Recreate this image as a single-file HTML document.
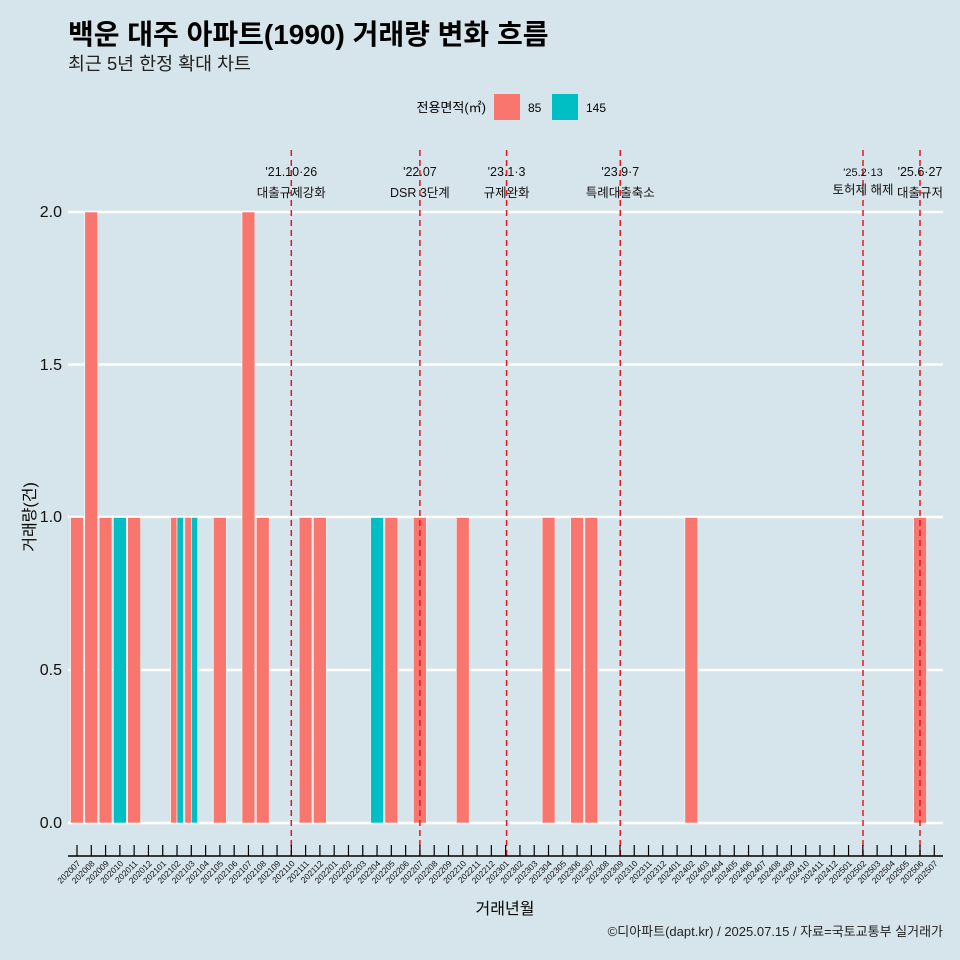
<!DOCTYPE html>
<html><head><meta charset="utf-8"><style>
body{margin:0;background:#d6e4eb}
svg{display:block;font-family:"Liberation Sans","Noto Sans CJK KR",sans-serif}
</style></head><body>
<svg width="960" height="960" viewBox="0 0 960 960">
<rect width="960" height="960" fill="#d6e4eb"/>
<text x="68" y="44" font-size="28" font-weight="bold" fill="#000">백운 대주 아파트(1990) 거래량 변화 흐름</text>
<text x="68" y="70" font-size="18.4" fill="#222">최근 5년 한정 확대 차트</text>
<text x="486" y="112" font-size="13" text-anchor="end">전용면적(㎡)</text>
<rect x="494" y="94" width="26" height="26" fill="#f8766d"/>
<text x="528" y="112" font-size="12">85</text>
<rect x="552" y="94" width="26" height="26" fill="#00bfc4"/>
<text x="586" y="112" font-size="12">145</text>
<g stroke="#fff" stroke-width="2.5">
<line x1="68" x2="943" y1="823" y2="823"/><line x1="68" x2="943" y1="670" y2="670"/>
<line x1="68" x2="943" y1="517" y2="517"/><line x1="68" x2="943" y1="364.5" y2="364.5"/>
<line x1="68" x2="943" y1="212" y2="212"/></g>
<g font-size="16" text-anchor="end" fill="#111">
<text x="62" y="828">0.0</text><text x="62" y="675">0.5</text><text x="62" y="522">1.0</text><text x="62" y="370">1.5</text><text x="62" y="217">2.0</text></g>
<text transform="translate(35,517) rotate(-90)" font-size="16" text-anchor="middle">거래량(건)</text>
<g fill="#f8766d" stroke="#fff" stroke-width="0.6">
<rect x="70.55" y="517.5" width="12.9" height="305.5"/>
<rect x="84.8" y="212" width="12.9" height="611"/>
<rect x="99.1" y="517.5" width="12.9" height="305.5"/>
<rect x="127.7" y="517.5" width="12.9" height="305.5"/>
<rect x="170.55" y="517.5" width="6.45" height="305.5"/>
<rect x="184.85" y="517.5" width="6.45" height="305.5"/>
<rect x="213.4" y="517.5" width="12.9" height="305.5"/>
<rect x="242" y="212" width="12.9" height="611"/>
<rect x="256.3" y="517.5" width="12.9" height="305.5"/>
<rect x="299.1" y="517.5" width="12.9" height="305.5"/>
<rect x="313.4" y="517.5" width="12.9" height="305.5"/>
<rect x="384.9" y="517.5" width="12.9" height="305.5"/>
<rect x="413.4" y="517.5" width="12.9" height="305.5"/>
<rect x="456.3" y="517.5" width="12.9" height="305.5"/>
<rect x="542.1" y="517.5" width="12.9" height="305.5"/>
<rect x="570.6" y="517.5" width="12.9" height="305.5"/>
<rect x="584.9" y="517.5" width="12.9" height="305.5"/>
<rect x="684.9" y="517.5" width="12.9" height="305.5"/>
<rect x="913.6" y="517.5" width="12.9" height="305.5"/>
</g>
<g fill="#00bfc4" stroke="#fff" stroke-width="0.6">
<rect x="113.4" y="517.5" width="12.9" height="305.5"/>
<rect x="177" y="517.5" width="6.45" height="305.5"/>
<rect x="191.3" y="517.5" width="6.45" height="305.5"/>
<rect x="370.6" y="517.5" width="12.9" height="305.5"/>
</g>
<g stroke="#e8141e" stroke-width="1.5" stroke-dasharray="6,4">
<line x1="291.3" x2="291.3" y1="150" y2="856"/>
<line x1="419.9" x2="419.9" y1="150" y2="856"/>
<line x1="506.6" x2="506.6" y1="150" y2="856"/>
<line x1="620.3" x2="620.3" y1="150" y2="856"/>
<line x1="863" x2="863" y1="150" y2="856"/>
<line x1="920" x2="920" y1="150" y2="856"/>
</g>
<g font-size="12.5" text-anchor="middle" fill="#111">
<text x="291.3" y="176">'21.10·26</text><text x="291.3" y="197">대출규제강화</text>
<text x="419.9" y="176">'22.07</text><text x="419.9" y="197">DSR 3단계</text>
<text x="506.6" y="176">'23.1·3</text><text x="506.6" y="197">규제완화</text>
<text x="620.3" y="176">'23.9·7</text><text x="620.3" y="197">특례대출축소</text>
<text x="863" y="176" font-size="11">'25.2·13</text><text x="863" y="194">토허제 해제</text>
<text x="920" y="176">'25.6·27</text><text x="920" y="197">대출규저</text>
</g>
<line x1="68" x2="943" y1="856" y2="856" stroke="#000" stroke-width="1.5"/>
<g id="ticks" stroke="#000" stroke-width="1.2"></g>
<g id="tl" font-size="8.5" text-anchor="end" fill="#111"></g>
<text x="505" y="914" font-size="16" text-anchor="middle">거래년월</text>
<text x="943" y="936" font-size="13" text-anchor="end" fill="#222">©디아파트(dapt.kr) / 2025.07.15 / 자료=국토교통부 실거래가</text>
<script>
var ns="http://www.w3.org/2000/svg",t=document.getElementById("ticks"),l=document.getElementById("tl");
for(var i=0;i<61;i++){var c=77+14.288*i;var y=2020+Math.floor((6+i)/12),m=(6+i)%12+1;
var ln=document.createElementNS(ns,"line");ln.setAttribute("x1",c);ln.setAttribute("x2",c);ln.setAttribute("y1",845);ln.setAttribute("y2",856);t.appendChild(ln);
var tx=document.createElementNS(ns,"text");tx.setAttribute("transform","translate("+(c+4)+",864) rotate(-45)");tx.textContent=y+(m<10?"0":"")+m;l.appendChild(tx);}
</script>
</svg>
</body></html>
